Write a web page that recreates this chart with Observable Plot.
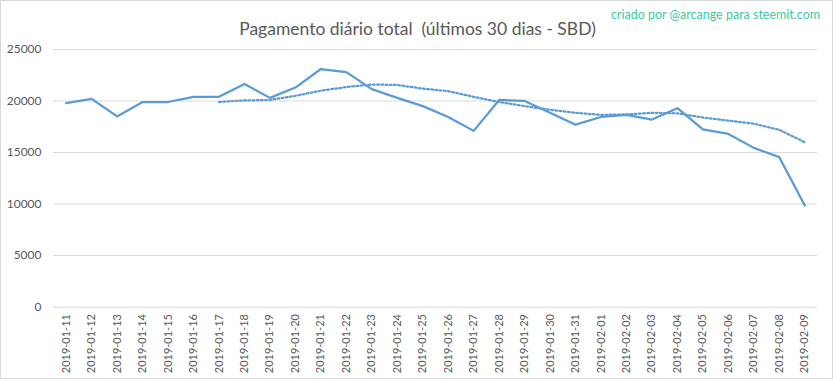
<!DOCTYPE html>
<html>
<head>
<meta charset="utf-8">
<script src="https://cdn.jsdelivr.net/npm/d3@7"></script>
<script src="https://cdn.jsdelivr.net/npm/@observablehq/plot@0.6"></script>
<style>
  html, body { margin: 0; padding: 0; background: #fff; }
  #wrap { position: relative; width: 833px; height: 379px; box-sizing: border-box; border: 1px solid #d9d9d9; overflow: hidden; font-family: Lato, "Open Sans", sans-serif; }
  #title { position: absolute; left: 0; width: 833px; top: 16px; text-align: center; font-size: 17.5px; line-height: 24px; color: #595959; white-space: pre; }
  #credit { position: absolute; right: 12px; top: 6px; font-size: 12.5px; line-height: 16px; color: #3cc9a2; }
  #chart { position: absolute; left: -1px; top: -1px; }
</style>
</head>
<body>
<div id="wrap">
  <div id="chart"></div>
  <div id="title">Pagamento diário total  (últimos 30 dias - SBD)</div>
  <div id="credit">criado por @arcange para steemit.com</div>
</div>
<script>
const dates = [
  "2019-01-11","2019-01-12","2019-01-13","2019-01-14","2019-01-15","2019-01-16",
  "2019-01-17","2019-01-18","2019-01-19","2019-01-20","2019-01-21","2019-01-22",
  "2019-01-23","2019-01-24","2019-01-25","2019-01-26","2019-01-27","2019-01-28",
  "2019-01-29","2019-01-30","2019-01-31","2019-02-01","2019-02-02","2019-02-03",
  "2019-02-04","2019-02-05","2019-02-06","2019-02-07","2019-02-08","2019-02-09"
];
const totals = [
  19800, 20200, 18500, 19900, 19900, 20400,
  20400, 21650, 20300, 21300, 23100, 22800,
  21150, 20300, 19500, 18450, 17100, 20100,
  20000, 18850, 17700, 18450, 18650, 18200,
  19300, 17250, 16800, 15450, 14550, 9850
];
// moving average (dotted), starts at 2019-01-17
const maDates = dates.slice(6);
const movingAvg = [
  19900, 20050, 20100, 20500, 21000, 21350,
  21600, 21550, 21200, 20950, 20400, 19900,
  19500, 19150, 18850, 18650, 18700, 18850,
  18800, 18400, 18100, 17800, 17200, 16000
];
const yTicks = [0, 5000, 10000, 15000, 20000, 25000];

const mainData = dates.map((d, i) => ({date: d, value: totals[i]}));
const maData = maDates.map((d, i) => ({date: d, value: movingAvg[i]}));

const blue = "#5b9bd5";

const chart = Plot.plot({
  width: 833,
  height: 379,
  marginLeft: 53,
  marginRight: 15,
  marginTop: 49,
  marginBottom: 72,
  style: { fontFamily: "Lato, 'Open Sans', sans-serif", fontSize: "12px", color: "#595959", background: "transparent" },
  x: { type: "point", domain: dates, padding: 0.5, round: false, label: null },
  y: { domain: [0, 25000], label: null },
  marks: [
    Plot.gridY(yTicks, { stroke: "#d9d9d9", strokeOpacity: 1, strokeWidth: 1 }),
    Plot.axisY(yTicks, { tickSize: 0, tickPadding: 12, tickFormat: d3.format("d"), label: null, fill: "#595959" }),
    Plot.axisX({ tickRotate: -90, tickSize: 0, tickPadding: 7, fontSize: 11, label: null, fill: "#595959" }),
    Plot.line(maData, { x: "date", y: "value", stroke: blue, strokeWidth: 2.25, strokeDasharray: "1.8,2.4" }),
    Plot.line(mainData, { x: "date", y: "value", stroke: blue, strokeWidth: 2.25 })
  ]
});
document.getElementById("chart").appendChild(chart);
</script>
</body>
</html>
